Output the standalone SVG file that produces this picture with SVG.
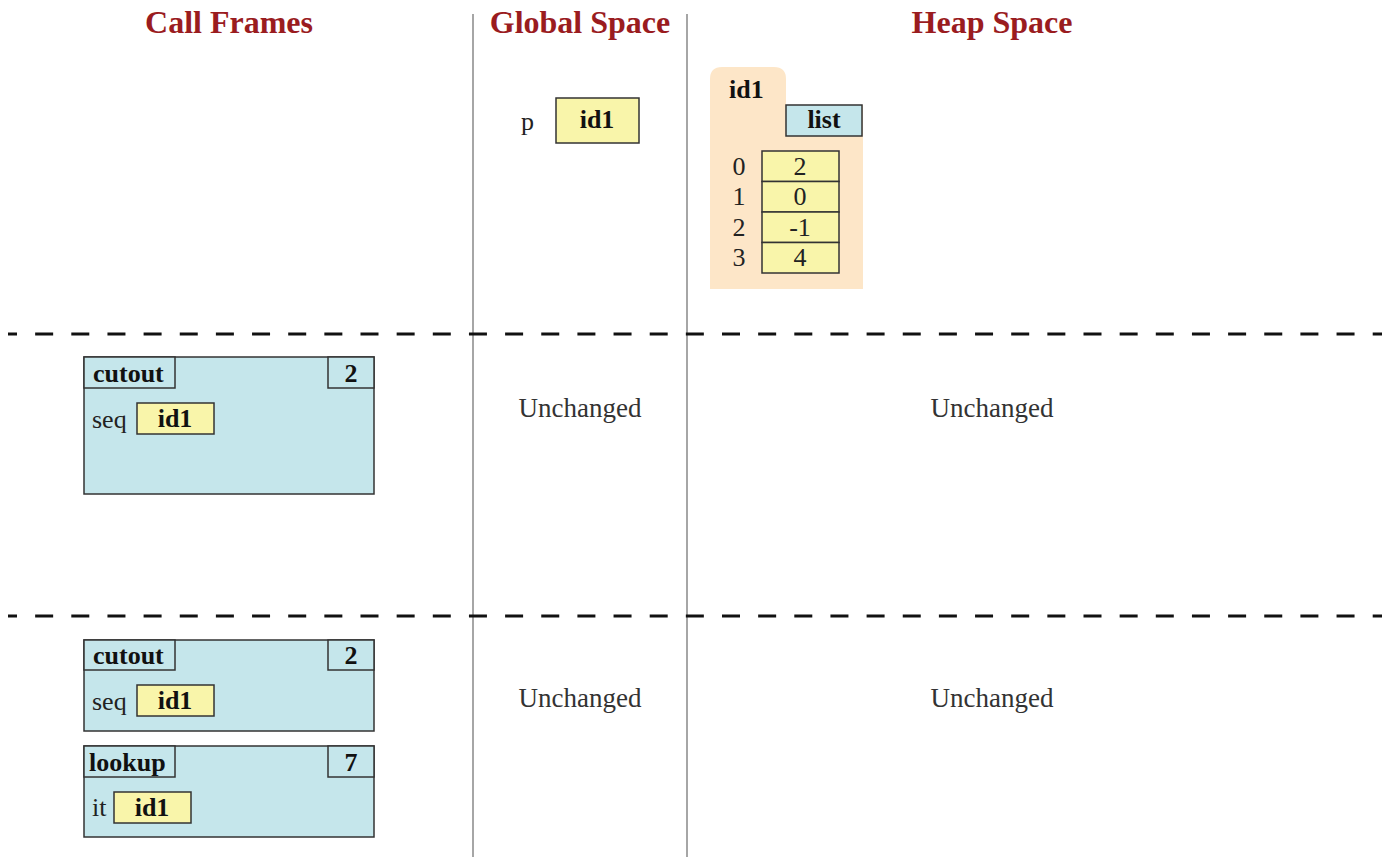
<svg xmlns="http://www.w3.org/2000/svg" width="1390" height="857" viewBox="0 0 1390 857">
<style>
text{font-family:"Liberation Serif","Times New Roman",serif;fill:#222}
.title{font-size:32px;font-weight:bold;fill:#9a1c1f;text-anchor:middle}
.t{font-size:26px}
.u{font-size:27px;fill:#333;text-anchor:middle}
.b{font-size:26px;font-weight:bold;fill:#111}
.c{text-anchor:middle}
.frame{fill:#c5e6eb;stroke:#333;stroke-width:1.5}
.val{fill:#f9f5aa;stroke:#333;stroke-width:1.5}
.vline{stroke:#888;stroke-width:1.5}
.dash{stroke:#111;stroke-width:3;stroke-dasharray:18 18.15;stroke-dashoffset:9}
</style>
<g id="dividers">
<line class="vline" x1="473" y1="14" x2="473" y2="857"/>
<line class="vline" x1="687" y1="14" x2="687" y2="857"/>
<line class="dash" x1="8" y1="334" x2="1382" y2="334"/>
<line class="dash" x1="8" y1="616" x2="1382" y2="616"/>
</g>
<g id="titles">
<text class="title" x="229" y="33">Call Frames</text>
<text class="title" x="580" y="33">Global Space</text>
<text class="title" x="992" y="33">Heap Space</text>
</g>
<g id="global-p">
<text class="t" x="521" y="130">p</text>
<rect class="val" x="556" y="98" width="83" height="45"/>
<text class="b c" x="597" y="128">id1</text>
</g>
<g id="heap-id1">
<path d="M710,289 V79 Q710,67 722,67 H774 Q786,67 786,79 V105 H863 V289 Z" fill="#fde6c8"/>
<text class="b" x="729" y="98">id1</text>
<rect class="frame" x="786" y="105" width="76" height="31"/>
<text class="b c" x="824" y="128">list</text>
<rect class="val" x="762" y="151" width="77" height="30.5"/>
<rect class="val" x="762" y="181.5" width="77" height="30.5"/>
<rect class="val" x="762" y="212" width="77" height="30.5"/>
<rect class="val" x="762" y="242.5" width="77" height="30.5"/>
<text class="t c" x="739" y="175">0</text>
<text class="t c" x="739" y="205">1</text>
<text class="t c" x="739" y="236">2</text>
<text class="t c" x="739" y="266">3</text>
<text class="t c" x="800" y="175">2</text>
<text class="t c" x="800" y="205">0</text>
<text class="t c" x="800" y="236">-1</text>
<text class="t c" x="800" y="266">4</text>
</g>
<g id="frame-cutout-1">
<rect class="frame" x="84" y="357" width="290" height="137"/>
<rect class="frame" x="84" y="357" width="91" height="31"/>
<rect class="frame" x="328" y="357" width="46" height="31"/>
<text class="b" x="93" y="382">cutout</text>
<text class="b c" x="351" y="382">2</text>
<text class="t" x="92" y="428">seq</text>
<rect class="val" x="137" y="403" width="77" height="31"/>
<text class="b c" x="175" y="427">id1</text>
</g>
<g id="unchanged-1">
<text class="u" x="580" y="417">Unchanged</text>
<text class="u" x="992" y="417">Unchanged</text>
</g>
<g id="frame-cutout-2">
<rect class="frame" x="84" y="640" width="290" height="91"/>
<rect class="frame" x="84" y="640" width="91" height="30"/>
<rect class="frame" x="328" y="640" width="46" height="30"/>
<text class="b" x="93" y="664">cutout</text>
<text class="b c" x="351" y="664">2</text>
<text class="t" x="92" y="710">seq</text>
<rect class="val" x="137" y="685" width="77" height="31"/>
<text class="b c" x="175" y="709">id1</text>
</g>
<g id="frame-lookup">
<rect class="frame" x="84" y="746" width="290" height="91"/>
<rect class="frame" x="84" y="746" width="91" height="31"/>
<rect class="frame" x="328" y="746" width="46" height="31"/>
<text class="b" x="89" y="771">lookup</text>
<text class="b c" x="351" y="771">7</text>
<text class="t" x="92" y="816">it</text>
<rect class="val" x="114" y="792" width="77" height="31"/>
<text class="b c" x="152" y="816">id1</text>
</g>
<g id="unchanged-2">
<text class="u" x="580" y="707">Unchanged</text>
<text class="u" x="992" y="707">Unchanged</text>
</g>
</svg>
